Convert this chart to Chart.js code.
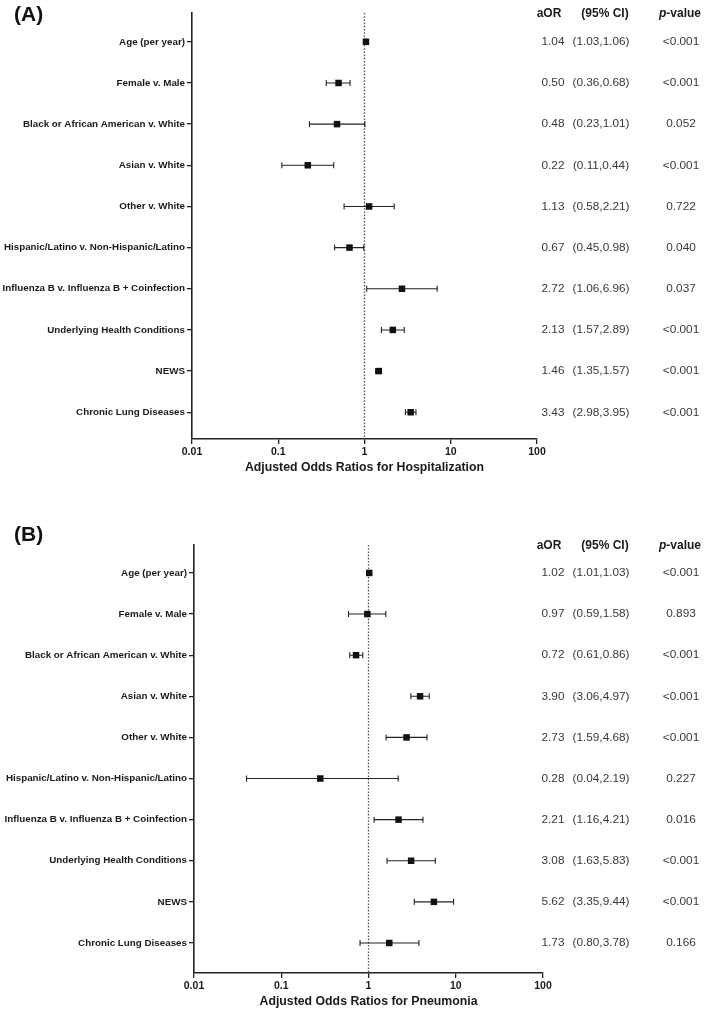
<!DOCTYPE html>
<html>
<head>
<meta charset="utf-8">
<script src="https://cdn.jsdelivr.net/npm/chart.js"></script>
<style>
  body { margin: 0; background: #fff; }
  .wrap { position: relative; width: 709px; }
  canvas { display: block; }
</style>
</head>
<body>
<div class="wrap" style="height:500px"><canvas id="chartA" width="709" height="500"></canvas></div>
<div class="wrap" style="height:512px"><canvas id="chartB" width="709" height="512"></canvas></div>
<script>
const labels = [
  "Age (per year)",
  "Female v. Male",
  "Black or African American v. White",
  "Asian v. White",
  "Other v. White",
  "Hispanic/Latino v. Non-Hispanic/Latino",
  "Influenza B v. Influenza B + Coinfection",
  "Underlying Health Conditions",
  "NEWS",
  "Chronic Lung Diseases"
];
const xTicks = [0.01, 0.1, 1, 10, 100];

// panel A - hospitalization
const aorA = [1.04, 0.50, 0.48, 0.22, 1.13, 0.67, 2.72, 2.13, 1.46, 3.43];
const lowA = [1.03, 0.36, 0.23, 0.11, 0.58, 0.45, 1.06, 1.57, 1.35, 2.98];
const highA = [1.06, 0.68, 1.01, 0.44, 2.21, 0.98, 6.96, 2.89, 1.57, 3.95];
const pA = ["<0.001", "<0.001", "0.052", "<0.001", "0.722", "0.040", "0.037", "<0.001", "<0.001", "<0.001"];

// panel B - pneumonia
const aorB = [1.02, 0.97, 0.72, 3.90, 2.73, 0.28, 2.21, 3.08, 5.62, 1.73];
const lowB = [1.01, 0.59, 0.61, 3.06, 1.59, 0.04, 1.16, 1.63, 3.35, 0.80];
const highB = [1.03, 1.58, 0.86, 4.97, 4.68, 2.19, 4.21, 5.83, 9.44, 3.78];
const pB = ["<0.001", "0.893", "<0.001", "<0.001", "<0.001", "0.227", "0.016", "<0.001", "<0.001", "0.166"];

const FONT = "'Liberation Sans', Arial, sans-serif";
const INK = "#1a1a1a";

function makeChart(id, cfg) {
  // error bars, reference line, columns and panel letter
  const forestPlugin = {
    id: "forest",
    beforeDatasetsDraw(chart) {
      const ctx = chart.ctx, x = chart.scales.x, y = chart.scales.y;
      const a = chart.chartArea;
      ctx.save();
      // dotted line at OR = 1
      ctx.strokeStyle = "#555";
      ctx.lineWidth = 1.3;
      ctx.setLineDash([1.6, 1.6]);
      ctx.beginPath();
      ctx.moveTo(x.getPixelForValue(1), a.top);
      ctx.lineTo(x.getPixelForValue(1), a.bottom);
      ctx.stroke();
      ctx.setLineDash([]);
      // whiskers
      ctx.strokeStyle = "#222";
      ctx.lineWidth = 1.1;
      cfg.low.forEach((lo, i) => {
        const yy = y.getPixelForValue(i + 1);
        const x1 = x.getPixelForValue(lo), x2 = x.getPixelForValue(cfg.high[i]);
        ctx.beginPath();
        ctx.moveTo(x1, yy); ctx.lineTo(x2, yy);
        ctx.moveTo(x1, yy - 3); ctx.lineTo(x1, yy + 3);
        ctx.moveTo(x2, yy - 3); ctx.lineTo(x2, yy + 3);
        ctx.stroke();
      });
      ctx.restore();
    },
    afterDraw(chart) {
      const ctx = chart.ctx, y = chart.scales.y;
      ctx.save();
      ctx.textBaseline = "middle";
      ctx.textAlign = "center";
      ctx.fillStyle = INK;
      ctx.font = "bold 12px " + FONT;
      const hy = cfg.headerY;
      ctx.fillText("aOR", 549, hy);
      ctx.fillText("(95% CI)", 605, hy);
      // p-value header, italic p
      ctx.font = "bold italic 12px " + FONT;
      const pw = ctx.measureText("p").width;
      ctx.font = "bold 12px " + FONT;
      const vw = ctx.measureText("-value").width;
      const px = 680 - (pw + vw) / 2;
      ctx.textAlign = "left";
      ctx.font = "bold italic 12px " + FONT;
      ctx.fillText("p", px, hy);
      ctx.font = "bold 12px " + FONT;
      ctx.fillText("-value", px + pw, hy);
      // values
      ctx.textAlign = "center";
      ctx.font = "11.8px " + FONT;
      ctx.fillStyle = "#383838";
      cfg.aor.forEach((v, i) => {
        const yy = y.getPixelForValue(i + 1);
        ctx.fillText(v.toFixed(2), 553, yy);
        ctx.fillText("(" + cfg.low[i].toFixed(2) + "," + cfg.high[i].toFixed(2) + ")", 601, yy);
        ctx.fillText(cfg.p[i], 681, yy);
      });
      // panel letter
      ctx.fillStyle = "#111";
      ctx.textAlign = "left";
      ctx.font = "bold 21px " + FONT;
      ctx.fillText(cfg.letter, 14, cfg.letterY);
      ctx.restore();
    }
  };

  return new Chart(document.getElementById(id), {
    type: "scatter",
    data: {
      datasets: [{
        data: cfg.aor.map((v, i) => ({ x: v, y: i + 1 })),
        pointStyle: "rect",
        pointRadius: 4.6,
        pointHoverRadius: 4.6,
        backgroundColor: "#111",
        borderColor: "#111",
        borderWidth: 0
      }]
    },
    options: {
      responsive: false,
      animation: false,
      events: [],
      layout: { padding: { top: cfg.top, right: cfg.right, left: 0, bottom: cfg.bottom } },
      plugins: { legend: { display: false }, tooltip: { enabled: false } },
      scales: {
        x: {
          type: "logarithmic",
          min: 0.01,
          max: 100,
          afterBuildTicks: (s) => { s.ticks = xTicks.map(v => ({ value: v })); },
          afterFit: (s) => { s.height = cfg.xHeight; },
          ticks: {
            color: INK,
            font: { family: FONT, size: 10.5, weight: "bold" },
            padding: 2,
            maxRotation: 0,
            callback: (v) => String(v)
          },
          grid: { drawOnChartArea: false, drawTicks: true, tickLength: 5, color: "#222", lineWidth: 1.3 },
          border: { display: true, color: "#222", width: 1.6 },
          title: {
            display: true,
            text: cfg.xTitle,
            color: INK,
            font: { family: FONT, size: 12.3, weight: "bold" },
            padding: { top: 2, bottom: 0 }
          }
        },
        y: {
          type: "linear",
          reverse: true,
          min: cfg.yMin,
          max: cfg.yMax,
          afterBuildTicks: (s) => { s.ticks = labels.map((_, i) => ({ value: i + 1 })); },
          afterFit: (s) => { s.width = cfg.left; },
          ticks: {
            color: INK,
            font: { family: FONT, size: 9.8, weight: "bold" },
            padding: 2,
            callback: (v) => labels[v - 1]
          },
          grid: { drawOnChartArea: false, drawTicks: true, tickLength: 5, color: "#222", lineWidth: 1.3 },
          border: { display: true, color: "#222", width: 1.6 }
        }
      }
    },
    plugins: [forestPlugin]
  });
}

makeChart("chartA", {
  aor: aorA, low: lowA, high: highA, p: pA,
  letter: "(A)", letterY: 15, headerY: 14,
  xTitle: "Adjusted Odds Ratios for Hospitalization",
  top: 13, right: 172, left: 192, xHeight: 36, bottom: 25,
  yMin: 0.3, yMax: 10.65
});

makeChart("chartB", {
  aor: aorB, low: lowB, high: highB, p: pB,
  letter: "(B)", letterY: 35, headerY: 46,
  xTitle: "Adjusted Odds Ratios for Pneumonia",
  top: 45, right: 166, left: 194, xHeight: 36, bottom: 3,
  yMin: 0.32, yMax: 10.73
});
</script>
</body>
</html>
